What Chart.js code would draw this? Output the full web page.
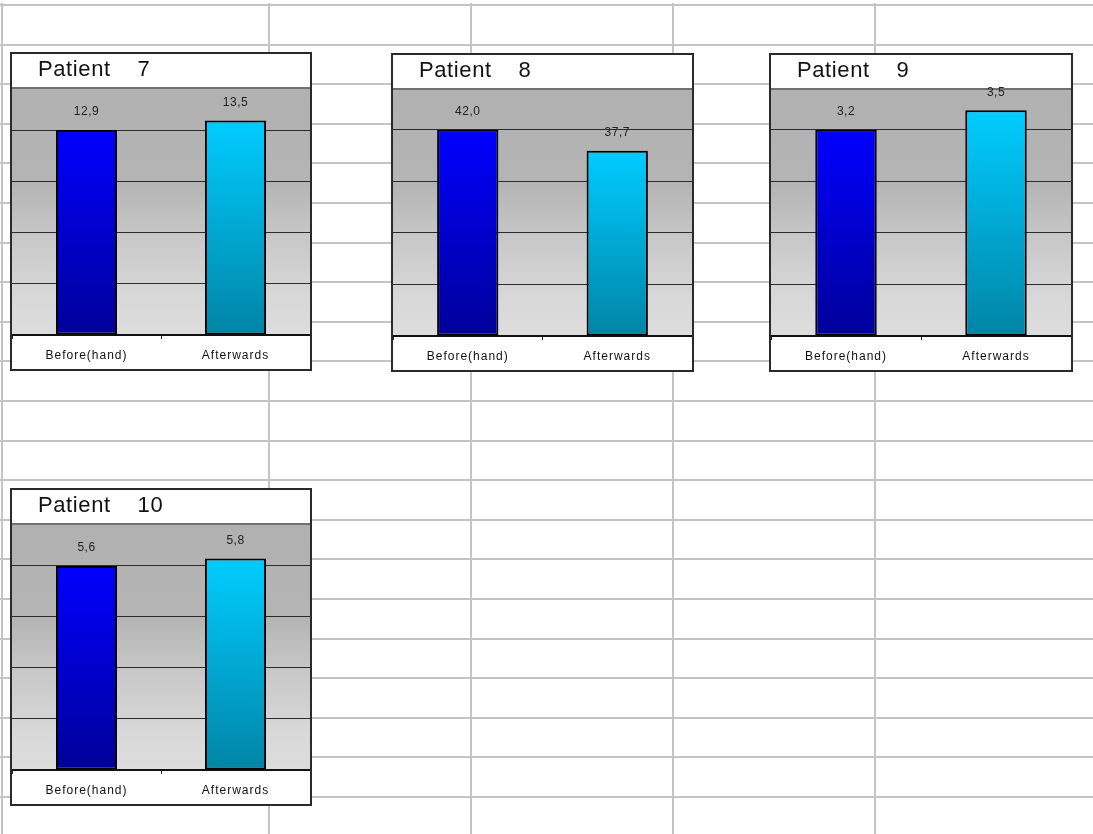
<!DOCTYPE html>
<html>
<head>
<meta charset="utf-8">
<title>Patients</title>
<script src="https://cdn.jsdelivr.net/npm/chart.js@4.4.1/dist/chart.umd.min.js"></script>
<style>
  body { margin: 0; background: #fff; }
  #sheet {
    position: relative; width: 1093px; height: 834px; overflow: hidden;
    background-image: repeating-linear-gradient(to bottom, #c4c4c4 0px, #c4c4c4 2px, transparent 2px, transparent 39.6px);
    background-repeat: no-repeat;
    background-position: 0 3.5px;
  }
  .vline { position: absolute; top: 3px; bottom: 0; width: 2px; background: #c4c4c4; }
  .box { position: absolute; box-sizing: border-box; border: 2px solid #2a2a2a; background: #fff; }
  .box canvas { display: block; }
</style>
</head>
<body>
<div id="sheet"></div>
<script>
const patientIds = ['7', '8', '9', '10'];
const categories = ['Before(hand)', 'Afterwards'];
const beforeValues = [12.9, 42.0, 3.2, 5.6];
const afterValues = [13.5, 37.7, 3.5, 5.8];
// top of each plot area and spacing of its grid lines
const yMax = [15.55, 50.3, 3.83, 6.75];
const gridStep = [3.225, 10.5, 0.8, 1.4];

const barColours = [['#0000ff', '#000099'], ['#00ccff', '#0084a6']];
const FONT = '"Liberation Sans", Arial, sans-serif';
Chart.defaults.font.family = FONT;

// spreadsheet grid behind the charts
const sheet = document.getElementById('sheet');
[2, 268.5, 470.5, 672.5, 874.5].forEach(x => {
    const d = document.createElement('div');
    d.className = 'vline';
    d.style.left = (x - 1) + 'px';
    sheet.appendChild(d);
});

const boxes = [
    { left: 10, top: 52, width: 302, height: 319 },
    { left: 391, top: 53, width: 303, height: 319 },
    { left: 769, top: 53, width: 304, height: 319 },
    { left: 10, top: 488, width: 302, height: 318 }
];

function barFill(ctx) {
    const chart = ctx.chart;
    const area = chart.chartArea;
    if (!area) return null;
    const top = chart.scales.y.getPixelForValue(ctx.raw);
    const g = chart.ctx.createLinearGradient(0, top, 0, area.bottom);
    const c = barColours[ctx.dataIndex];
    g.addColorStop(0, c[0]);
    g.addColorStop(1, c[1]);
    return g;
}

const panelPlugin = {
    id: 'panel',
    beforeDraw(chart) {
        const ctx = chart.ctx, a = chart.chartArea;
        const g = ctx.createLinearGradient(0, a.top, 0, a.bottom);
        g.addColorStop(0, '#b1b1b1');
        g.addColorStop(0.38, '#b4b4b4');
        g.addColorStop(0.62, '#c9c9c9');
        g.addColorStop(0.85, '#d8d8d8');
        g.addColorStop(1, '#dddddd');
        ctx.save();
        ctx.fillStyle = g;
        ctx.fillRect(a.left, a.top, a.width, a.height);
        ctx.restore();
        ctx.letterSpacing = '1px';
    },
    afterDatasetsDraw(chart) {
        const ctx = chart.ctx;
        const meta = chart.getDatasetMeta(0);
        ctx.save();
        ctx.letterSpacing = '0.5px';
        ctx.font = '12px ' + FONT;
        ctx.fillStyle = '#222';
        ctx.textAlign = 'center';
        ctx.textBaseline = 'middle';
        meta.data.forEach((bar, j) => {
            const v = chart.data.datasets[0].data[j];
            ctx.fillText(v.toFixed(1).replace('.', ','), bar.x, bar.y - 18);
        });
        ctx.restore();
    },
    afterDraw(chart, args, opts) {
        const ctx = chart.ctx;
        ctx.save();
        ctx.letterSpacing = '0.6px';
        ctx.font = '22px ' + FONT;
        ctx.fillStyle = '#111';
        ctx.textAlign = 'left';
        ctx.textBaseline = 'alphabetic';
        ctx.fillText(opts.text, 26, 22);
        ctx.restore();
    }
};

patientIds.forEach((id, i) => {
    const b = boxes[i];
    const box = document.createElement('div');
    box.className = 'box';
    Object.assign(box.style, { left: b.left + 'px', top: b.top + 'px', width: b.width + 'px', height: b.height + 'px' });
    const canvas = document.createElement('canvas');
    canvas.width = b.width - 4;
    canvas.height = b.height - 4;
    box.appendChild(canvas);
    sheet.appendChild(box);

    new Chart(canvas, {
        type: 'bar',
        data: {
            labels: categories,
            datasets: [{
                data: [beforeValues[i], afterValues[i]],
                backgroundColor: barFill,
                borderColor: '#000',
                borderWidth: 2,
                borderSkipped: false,
                barPercentage: 0.82,
                categoryPercentage: 0.5
            }]
        },
        options: {
            responsive: false,
            animation: false,
            layout: { padding: { top: 34, bottom: -2.4, left: 0, right: 0 } },
            plugins: {
                legend: { display: false },
                tooltip: { enabled: false },
                panel: { text: 'Patient    ' + id }
            },
            scales: {
                x: {
                    grid: { drawOnChartArea: false, tickLength: 4, color: '#222', offset: true },
                    border: { color: '#111', width: 2 },
                    ticks: { color: '#111', font: { size: 12 }, padding: 9 }
                },
                y: {
                    min: 0,
                    max: yMax[i],
                    afterBuildTicks: scale => {
                        const t = [];
                        for (let v = 0; v <= yMax[i] - 0.001; v += gridStep[i]) t.push({ value: v });
                        t.push({ value: yMax[i] });
                        scale.ticks = t;
                    },
                    grid: {
                        drawTicks: false,
                        color: c => (c.tick && c.tick.value === yMax[i]) ? '#707070' : '#2b2b2b',
                        lineWidth: c => (c.tick && c.tick.value === yMax[i]) ? 2 : 1
                    },
                    border: { display: false },
                    ticks: { display: false }
                }
            }
        },
        plugins: [panelPlugin]
    });
});
</script>
</body>
</html>
